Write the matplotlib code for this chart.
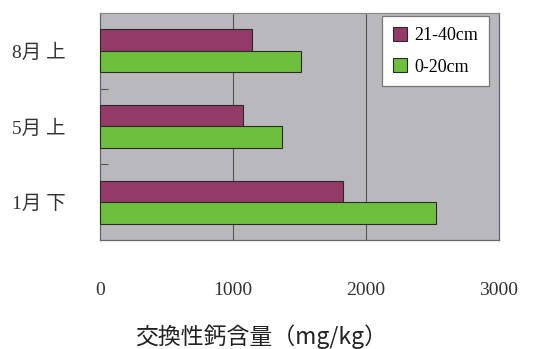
import matplotlib
matplotlib.use("Agg")
import matplotlib.pyplot as plt
import numpy as np

categories = ["1月 下", "5月 上", "8月 上"]
series_names = ["21-40cm", "0-20cm"]
deep_values = [1825, 1075, 1140]      # 21-40cm
shallow_values = [2525, 1370, 1515]   # 0-20cm
x_ticks = [0, 1000, 2000, 3000]
x_label = "交換性鈣含量（mg/kg）"

purple = "#943a66"
green = "#6dbf3d"
bg = "#b9b9bd"

fig = plt.figure(figsize=(5.37, 3.49), dpi=100)
ax = fig.add_axes([0.1862, 0.3123, 0.7430, 0.6505])
ax.set_facecolor(bg)

y = np.arange(len(categories))
h = 0.285
ax.barh(y + h / 2, deep_values, height=h, color=purple, edgecolor="#2a2a2a",
        linewidth=0.8, label=series_names[0], zorder=3)
ax.barh(y - h / 2, shallow_values, height=h, color=green, edgecolor="#2a2a2a",
        linewidth=0.8, label=series_names[1], zorder=3)

ax.set_xlim(0, 3000)
ax.set_ylim(-0.5, 2.5)

for xv in x_ticks[1:-1]:
    ax.axvline(xv, color="#555555", linewidth=0.8, zorder=1)

serif = ["Liberation Serif", "Noto Sans CJK JP", "DejaVu Serif"]
ax.set_yticks(y)
ax.set_yticklabels(categories, family=serif, fontsize=14, color="#333333")
ax.set_yticks([0.5, 1.5], minor=True)
ax.tick_params(axis="y", which="major", length=0, pad=25)
ax.tick_params(axis="y", which="minor", direction="in", length=6,
               color="#555555", width=0.8)

ax.set_xticks(x_ticks)
ax.set_xticklabels([str(v) for v in x_ticks], family=serif, fontsize=14,
                   color="#333333")
ax.tick_params(axis="x", length=0, pad=30)

for side in ["left", "bottom", "right", "top"]:
    ax.spines[side].set_color("#666666")
    ax.spines[side].set_linewidth(0.9)
ax.spines["top"].set_color("#8a8a8a")

ax.set_xlabel(x_label, family=["Noto Sans CJK JP", "DejaVu Sans"],
              fontsize=16.5, color="#222222", va="center")
ax.xaxis.set_label_coords(0.405, -0.425)

handles, labels = ax.get_legend_handles_labels()
leg = ax.legend(handles, labels, loc="upper right", bbox_to_anchor=(0.975, 0.987),
                borderaxespad=0.0,
                prop={"family": serif, "size": 13}, frameon=True, fancybox=False,
                handlelength=0.8, handleheight=0.8, handletextpad=0.4,
                borderpad=0.6, labelspacing=0.8, edgecolor="#777777",
                framealpha=1.0)
leg.get_frame().set_linewidth(0.9)

fig.savefig("out.png", dpi=100, facecolor="white")
